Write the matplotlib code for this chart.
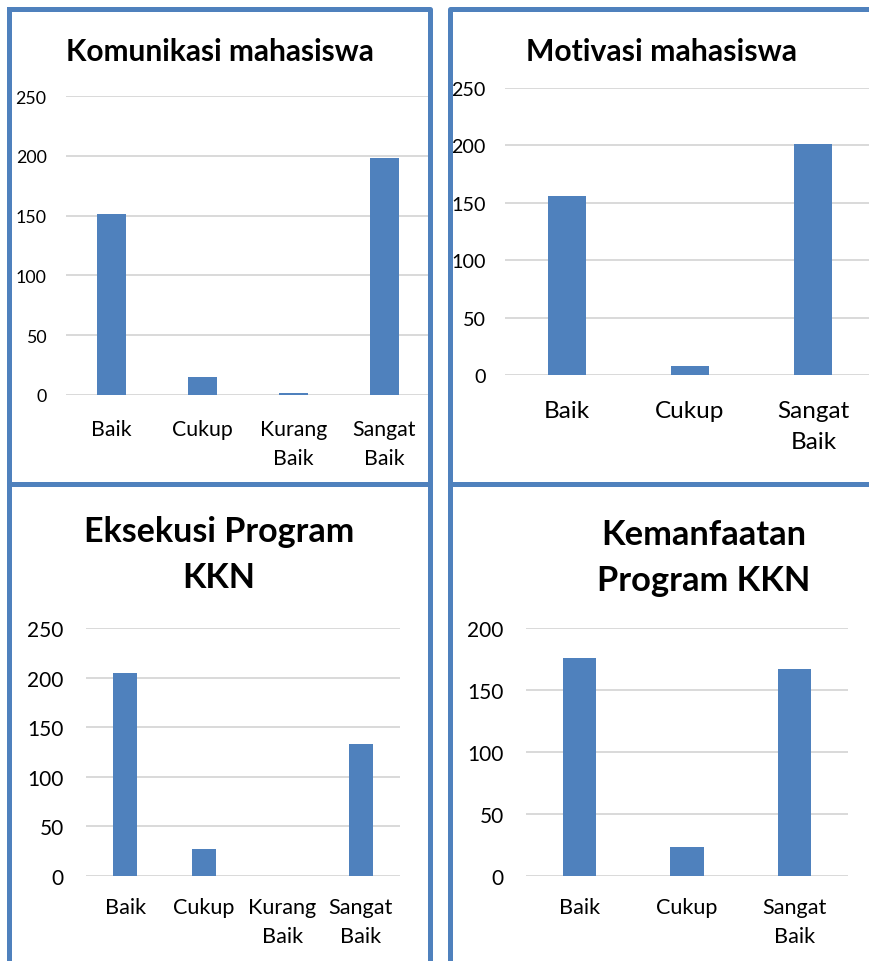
import matplotlib.pyplot as plt
from matplotlib.lines import Line2D

plt.rcParams['font.family'] = ['Lato', 'DejaVu Sans']

W, H = 870, 962
BLUE = '#4F81BD'
GRID = '#D9D9D9'

# data per panel
kategori_4 = ['Baik', 'Cukup', 'Kurang\nBaik', 'Sangat\nBaik']
kategori_3 = ['Baik', 'Cukup', 'Sangat\nBaik']

komunikasi = [151, 15, 2, 198]
motivasi = [156, 8, 201]
eksekusi = [205, 27, 0, 133]
kemanfaatan = [176, 23, 167]

judul = ['Komunikasi mahasiswa', 'Motivasi mahasiswa',
         'Eksekusi Program\nKKN', 'Kemanfaatan\nProgram KKN']

fig = plt.figure(figsize=(W / 100, H / 100), dpi=100)


def px_axes(x0, y0, x1, y1):
    # pixel box (top-left origin) -> figure fraction
    return fig.add_axes([x0 / W, 1 - y1 / H, (x1 - x0) / W, (y1 - y0) / H])


def px_line(xs, ys):
    fig.add_artist(Line2D([x / W for x in xs], [1 - y / H for y in ys],
                          color=BLUE, lw=3.6, solid_capstyle='projecting'))


def gambar(ax, kat, nilai, ymax, fs_y, fs_x, pad_y, pad_x):
    ax.bar(range(len(kat)), nilai, width=0.31, color=BLUE, zorder=3)
    ax.set_xlim(-0.5, len(kat) - 0.5)
    ax.set_ylim(0, ymax)
    ax.set_yticks(range(0, ymax + 1, 50))
    ax.set_xticks(range(len(kat)))
    ax.set_xticklabels(kat, fontsize=fs_x, linespacing=1.6)
    ax.tick_params(axis='y', labelsize=fs_y, length=0, pad=pad_y)
    ax.tick_params(axis='x', length=0, pad=pad_x)
    ax.grid(axis='y', color=GRID, lw=1.4, zorder=0)
    for s in ax.spines.values():
        s.set_visible(False)
    ax.set_facecolor('none')


ax1 = px_axes(66, 97, 430, 396)
gambar(ax1, kategori_4, komunikasi, 250, 12.8, 15.3, 14, 17)
ax2 = px_axes(505, 89, 875, 376)
gambar(ax2, kategori_3, motivasi, 250, 14.2, 17.5, 14, 18)
ax3 = px_axes(86, 629, 400, 877)
gambar(ax3, kategori_4, eksekusi, 250, 15, 15.6, 16, 15)
ax4 = px_axes(526, 629, 848, 877)
gambar(ax4, kategori_3, kemanfaatan, 200, 15, 15.6, 16, 15)

# titles
fig.text(220 / W, 1 - 52 / H, judul[0], fontsize=21.5, fontweight='bold',
         ha='center', va='center')
fig.text(662 / W, 1 - 52 / H, judul[1], fontsize=21.7, fontweight='bold',
         ha='center', va='center')
fig.text(219 / W, 1 - 555 / H, judul[2], fontsize=24.5, fontweight='bold',
         ha='center', va='center', linespacing=1.55)
fig.text(704 / W, 1 - 558 / H, judul[3], fontsize=24.8, fontweight='bold',
         ha='center', va='center', linespacing=1.55)

# panel frames
px_line([9.5, 430.5, 430.5, 9.5, 9.5], [9.5, 9.5, 484.5, 484.5, 9.5])
px_line([880, 450, 450], [9.5, 9.5, 485])
px_line([450, 880], [485, 485])
px_line([9.5, 9.5], [485, 970])
px_line([430, 430], [485, 970])
px_line([9.5, 430], [485, 485])
px_line([450, 450], [485, 970])
px_line([450, 880], [485, 485])

fig.savefig('out.png', dpi=100)
